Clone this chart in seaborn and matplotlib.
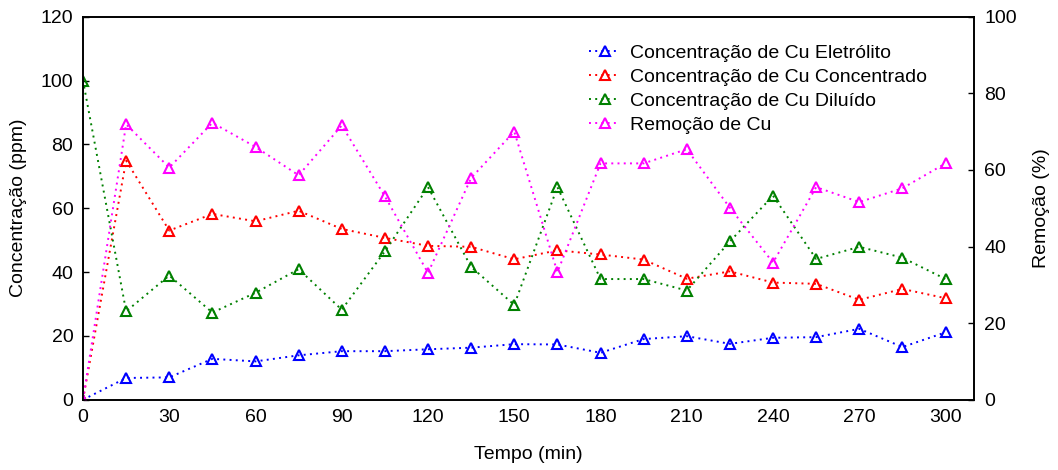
import numpy as np
import pandas as pd
import matplotlib
matplotlib.use("Agg")
import matplotlib.pyplot as plt
import seaborn as sns

tempo = [0, 15, 30, 45, 60, 75, 90, 105, 120, 135, 150, 165, 180, 195, 210, 225, 240, 255, 270, 285, 300]
eletrolito = [0, 6.8, 7.0, 12.8, 12.0, 13.9, 15.2, 15.2, 15.8, 16.3, 17.4, 17.3, 14.7, 19.0, 19.9, 17.5, 19.4, 19.6, 22.2, 16.5, 21.1]
concentrado = [0, 74.9, 53.0, 58.2, 55.9, 59.2, 53.5, 50.7, 48.2, 47.9, 44.0, 46.8, 45.5, 43.9, 37.9, 40.2, 36.7, 36.3, 31.3, 34.7, 31.8]
diluido = [100, 27.7, 38.9, 27.3, 33.5, 40.9, 28.2, 46.5, 66.6, 41.6, 29.7, 66.6, 37.8, 37.8, 34.2, 49.6, 63.9, 44.1, 47.9, 44.5, 37.8]
remocao = [0, 71.9, 60.6, 72.3, 66.0, 58.6, 71.6, 53.1, 33.1, 57.9, 70.0, 33.3, 61.7, 61.7, 65.4, 50.1, 35.8, 55.5, 51.6, 55.2, 61.7]

labels = ["Concentração de Cu Eletrólito", "Concentração de Cu Concentrado",
          "Concentração de Cu Diluído", "Remoção de Cu"]
colors = ["#0000ff", "#ff0000", "#008000", "#ff00ff"]

sns.set_style("white")
plt.rcParams['font.family'] = ['Liberation Sans', 'DejaVu Sans']
plt.rcParams['font.size'] = 14
plt.rcParams['text.color'] = 'black'
plt.rcParams['axes.labelcolor'] = 'black'
plt.rcParams['xtick.color'] = 'black'
plt.rcParams['ytick.color'] = 'black'

fig = plt.figure(figsize=(10.58, 4.70), dpi=100)
ax = fig.add_axes([83/1058, 1 - 399.7/470, (974.3-83)/1058, (399.7-16.7)/470])
ax2 = ax.twinx()

style = dict(marker='^', markerfacecolor='none', markeredgewidth=1.5, markersize=7,
             linestyle=(0, (1, 2.2)), linewidth=1.4)

series_left = [eletrolito, concentrado, diluido]
for vals, lab, c in zip(series_left, labels[:3], colors[:3]):
    df = pd.DataFrame({"t": tempo, "v": vals})
    sns.lineplot(data=df, x="t", y="v", ax=ax, color=c, markeredgecolor=c, label=lab, legend=False, **style)
df = pd.DataFrame({"t": tempo, "v": remocao})
sns.lineplot(data=df, x="t", y="v", ax=ax2, color=colors[3], markeredgecolor=colors[3], label=labels[3], legend=False, **style)

ax.set_xlim(0, 310)
ax.set_ylim(0, 120)
ax2.set_ylim(0, 100)
ax.set_xticks(range(0, 301, 30))
ax.set_yticks(range(0, 121, 20))
ax2.set_yticks(range(0, 101, 20))
ax.set_xlabel("Tempo (min)", fontsize=14, labelpad=14, color='black')
ax.set_ylabel("Concentração (ppm)", fontsize=14, labelpad=10, color='black')
ax2.set_ylabel("Remoção (%)", fontsize=14, labelpad=12, color='black')
for a in (ax, ax2):
    a.tick_params(direction='in', length=4, width=1, labelsize=14, color='black', labelcolor='black')
    for s in a.spines.values():
        s.set_color('black')
        s.set_linewidth(1.2)
ax.tick_params(axis='y', pad=7)
ax2.tick_params(axis='y', pad=7)
ax.tick_params(axis='x', pad=7)

h1, l1 = ax.get_legend_handles_labels()
h2, l2 = ax2.get_legend_handles_labels()
leg = ax2.legend(h1 + h2, l1 + l2, loc='upper left', bbox_to_anchor=(0.559, 0.948),
                 frameon=False, fontsize=14, handlelength=1.6, handletextpad=0.5,
                 labelspacing=0.33, borderaxespad=0)
for t in leg.get_texts():
    t.set_color('black')

fig.savefig("out.png", dpi=100)
